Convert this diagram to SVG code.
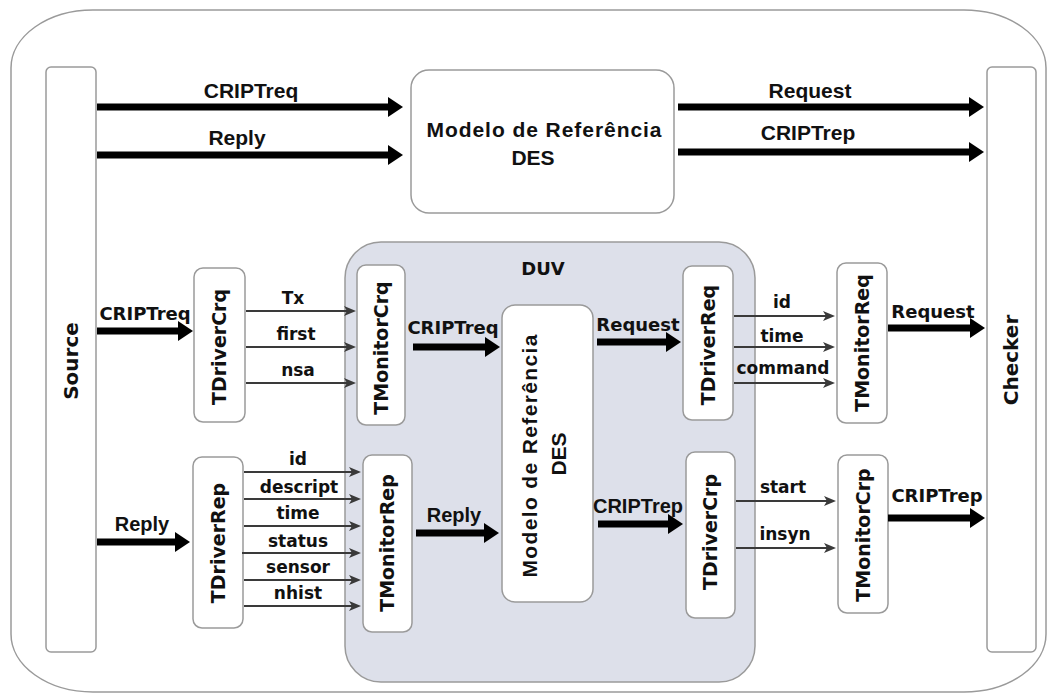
<svg xmlns="http://www.w3.org/2000/svg" width="1052" height="696" viewBox="0 0 1052 696">
<style>
.frame{fill:#fff;stroke:#9a9a9a;stroke-width:1.5}
.box{fill:#fff;stroke:#9a9a9a;stroke-width:1.5}
.duv{fill:#dde0ea;stroke:#9a9a9a;stroke-width:1.5}
.thick{stroke:#000;stroke-width:7;fill:none}
.thin{stroke:#3a3a3a;stroke-width:2.2;fill:none}
.a{font-family:"Liberation Sans",Arial,sans-serif;font-weight:bold;fill:#111}
.d{font-family:"DejaVu Sans",Verdana,sans-serif;font-weight:bold;fill:#111}
.big{font-size:21px}
.mid{font-size:18px}
.sm{font-size:17px}
.lbl{font-size:19px}
text{text-anchor:middle}
</style>
<defs>
<marker id="hThick" markerUnits="userSpaceOnUse" markerWidth="15" markerHeight="20" refX="3" refY="10" orient="auto">
<path d="M0,0 L15,10 L0,20 z" fill="#000"/>
</marker>
<marker id="hThin" markerUnits="userSpaceOnUse" markerWidth="12" markerHeight="10" refX="3" refY="5" orient="auto">
<path d="M0,0 L12,5 L0,10 L3,5 z" fill="#3a3a3a"/>
</marker>
</defs>

<rect class="frame" x="11" y="10" width="1035" height="682" rx="82" ry="58"/>

<g id="duv">
<rect class="duv" x="345" y="242" width="410" height="440" rx="36" ry="36"/>
<text class="d mid" x="543" y="275">DUV</text>
</g>

<g id="source">
<rect class="box" x="46" y="67" width="50" height="585" rx="5"/>
<text class="d" font-size="20" transform="translate(78,361) rotate(-90)">Source</text>
</g>
<g id="checker">
<rect class="box" x="987" y="67" width="49" height="585" rx="5"/>
<text class="d" font-size="20" transform="translate(1018,360) rotate(-90)">Checker</text>
</g>

<g id="modelTop">
<rect class="box" x="411" y="70" width="263" height="143" rx="18"/>
<text class="a big" x="544" y="137" textLength="235" lengthAdjust="spacing">Modelo de Referência</text>
<text class="a big" x="533" y="165">DES</text>
</g>

<g id="modelDUV">
<rect class="box" x="502" y="305" width="91" height="297" rx="13"/>
<text class="a big" transform="translate(537,456) rotate(-90)" textLength="243" lengthAdjust="spacing">Modelo de Referência</text>
<text class="a big" transform="translate(566,454) rotate(-90)">DES</text>
</g>

<g id="TDriverCrq">
<rect class="box" x="194" y="268" width="51" height="154" rx="9"/>
<text class="d lbl" transform="translate(226,347) rotate(-90)">TDriverCrq</text>
</g>
<g id="TMonitorCrq">
<rect class="box" x="357" y="265" width="48" height="160" rx="9"/>
<text class="d lbl" transform="translate(388,348) rotate(-90)">TMonitorCrq</text>
</g>
<g id="TDriverReq">
<rect class="box" x="683" y="266" width="50" height="154" rx="9"/>
<text class="d lbl" transform="translate(715,345) rotate(-90)">TDriverReq</text>
</g>
<g id="TMonitorReq">
<rect class="box" x="837" y="263" width="50" height="160" rx="9"/>
<text class="d lbl" transform="translate(869,343) rotate(-90)">TMonitorReq</text>
</g>
<g id="TDriverRep">
<rect class="box" x="193" y="457" width="50" height="171" rx="9"/>
<text class="d lbl" transform="translate(225,543) rotate(-90)">TDriverRep</text>
</g>
<g id="TMonitorRep">
<rect class="box" x="363" y="455" width="49" height="177" rx="9"/>
<text class="d lbl" transform="translate(394,543) rotate(-90)">TMonitorRep</text>
</g>
<g id="TDriverCrp">
<rect class="box" x="686" y="452" width="49" height="166" rx="9"/>
<text class="d lbl" transform="translate(717,532) rotate(-90)">TDriverCrp</text>
</g>
<g id="TMonitorCrp">
<rect class="box" x="838" y="455" width="50" height="158" rx="9"/>
<text class="d lbl" transform="translate(870,535) rotate(-90)">TMonitorCrp</text>
</g>

<g id="connectors">
<line class="thick" x1="97" y1="107" x2="391" y2="107" marker-end="url(#hThick)"/>
<line class="thick" x1="97" y1="155" x2="391" y2="155" marker-end="url(#hThick)"/>
<line class="thick" x1="678" y1="107" x2="972" y2="107" marker-end="url(#hThick)"/>
<line class="thick" x1="678" y1="152" x2="972" y2="152" marker-end="url(#hThick)"/>
<line class="thick" x1="97" y1="331" x2="181" y2="331" marker-end="url(#hThick)"/>
<line class="thick" x1="413" y1="347" x2="488" y2="347" marker-end="url(#hThick)"/>
<line class="thick" x1="597" y1="342" x2="669" y2="342" marker-end="url(#hThick)"/>
<line class="thick" x1="888" y1="328" x2="973" y2="328" marker-end="url(#hThick)"/>
<line class="thick" x1="97" y1="542" x2="178" y2="542" marker-end="url(#hThick)"/>
<line class="thick" x1="416" y1="533" x2="487" y2="533" marker-end="url(#hThick)"/>
<line class="thick" x1="598" y1="524" x2="671" y2="524" marker-end="url(#hThick)"/>
<line class="thick" x1="888" y1="518" x2="973" y2="518" marker-end="url(#hThick)"/>

<line class="thin" x1="246" y1="311" x2="347" y2="311" marker-end="url(#hThin)"/>
<line class="thin" x1="246" y1="347" x2="347" y2="347" marker-end="url(#hThin)"/>
<line class="thin" x1="246" y1="383" x2="347" y2="383" marker-end="url(#hThin)"/>
<line class="thin" x1="734" y1="316" x2="826" y2="316" marker-end="url(#hThin)"/>
<line class="thin" x1="734" y1="347" x2="826" y2="347" marker-end="url(#hThin)"/>
<line class="thin" x1="734" y1="383" x2="826" y2="383" marker-end="url(#hThin)"/>
<line class="thin" x1="244" y1="472" x2="352" y2="472" marker-end="url(#hThin)"/>
<line class="thin" x1="244" y1="499" x2="352" y2="499" marker-end="url(#hThin)"/>
<line class="thin" x1="244" y1="526" x2="352" y2="526" marker-end="url(#hThin)"/>
<line class="thin" x1="242" y1="553" x2="352" y2="553" marker-end="url(#hThin)"/>
<line class="thin" x1="244" y1="580" x2="352" y2="580" marker-end="url(#hThin)"/>
<line class="thin" x1="244" y1="606" x2="352" y2="606" marker-end="url(#hThin)"/>
<line class="thin" x1="736" y1="501" x2="827" y2="501" marker-end="url(#hThin)"/>
<line class="thin" x1="736" y1="548" x2="827" y2="548" marker-end="url(#hThin)"/>

<text class="a big" x="251" y="98">CRIPTreq</text>
<text class="a big" x="237" y="145">Reply</text>
<text class="a big" x="810" y="98">Request</text>
<text class="a big" x="808" y="140">CRIPTrep</text>

<text class="d mid" x="145" y="320">CRIPTreq</text>
<text class="d sm" x="293" y="304">Tx</text>
<text class="d sm" x="296" y="340">first</text>
<text class="d sm" x="298" y="376">nsa</text>
<text class="d mid" x="453" y="334">CRIPTreq</text>
<text class="d mid" x="638" y="331">Request</text>
<text class="d sm" x="782" y="308">id</text>
<text class="d sm" x="782" y="342">time</text>
<text class="d sm" x="783" y="374">command</text>
<text class="d mid" x="933" y="318">Request</text>

<text class="a" font-size="20" x="142" y="531">Reply</text>
<text class="d sm" x="298" y="465">id</text>
<text class="d sm" x="299" y="493">descript</text>
<text class="d sm" x="298" y="519">time</text>
<text class="d sm" x="298" y="547">status</text>
<text class="d sm" x="298" y="573">sensor</text>
<text class="d sm" x="298" y="599">nhist</text>
<text class="a" font-size="20" x="454" y="522">Reply</text>
<text class="a" font-size="20" x="638" y="513">CRIPTrep</text>
<text class="d sm" x="783" y="493">start</text>
<text class="d sm" x="785" y="540">insyn</text>
<text class="d mid" x="937" y="502">CRIPTrep</text>
</g>
</svg>
